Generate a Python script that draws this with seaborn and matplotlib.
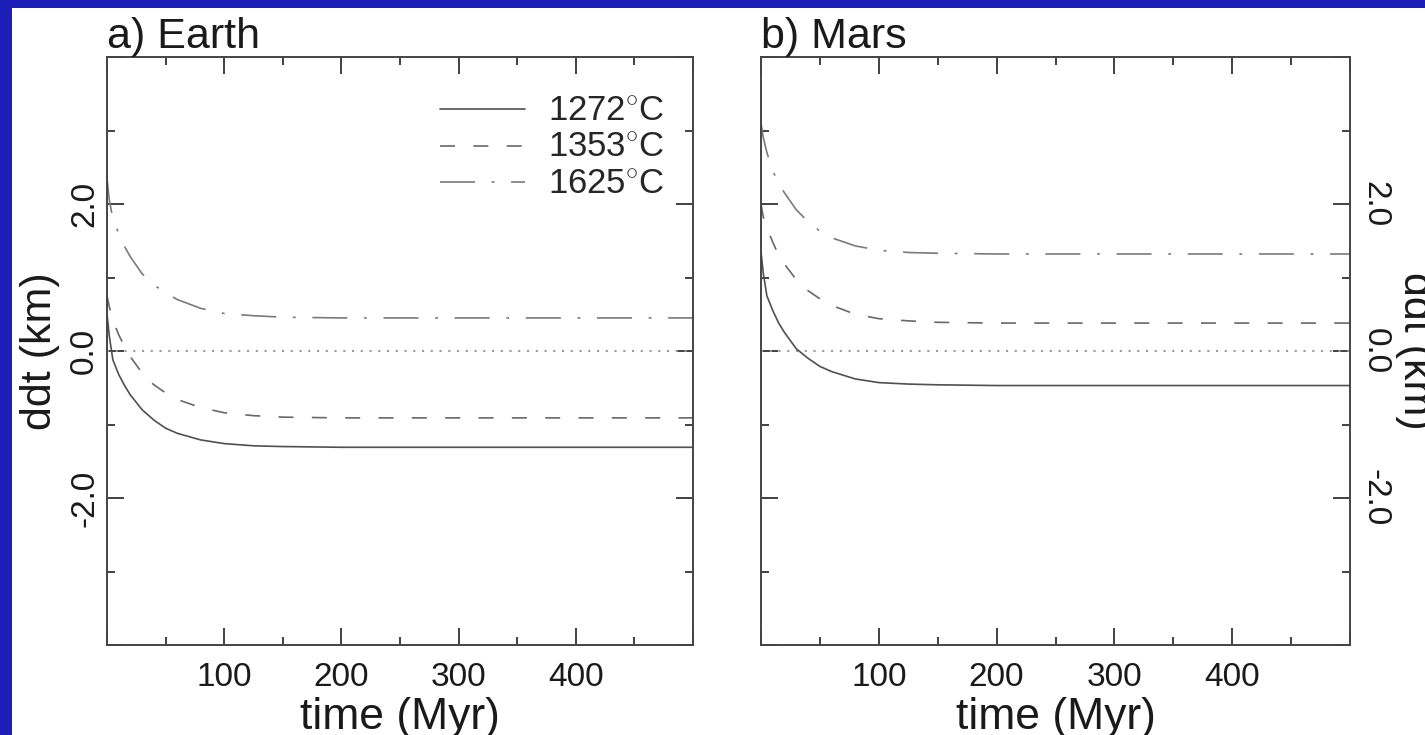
import numpy as np
import pandas as pd
import matplotlib
matplotlib.use('Agg')
import matplotlib.pyplot as plt
from matplotlib.patches import Rectangle
import seaborn as sns

# values
t_myr = [0, 2, 5, 10, 15, 20, 30, 40, 50, 60, 80, 100, 125, 150, 200, 300, 400, 500]

earth_1272 = [0.50, 0.20, -0.12, -0.32, -0.47, -0.60, -0.80, -0.94, -1.05, -1.12, -1.21, -1.26, -1.29, -1.30, -1.31, -1.31, -1.31, -1.31]
earth_1353 = [0.75, 0.60, 0.42, 0.22, 0.06, -0.08, -0.30, -0.46, -0.57, -0.66, -0.77, -0.84, -0.88, -0.90, -0.91, -0.91, -0.91, -0.91]
earth_1625 = [2.35, 2.05, 1.80, 1.60, 1.42, 1.28, 1.05, 0.90, 0.79, 0.70, 0.58, 0.51, 0.48, 0.46, 0.45, 0.45, 0.45, 0.45]

mars_1272 = [1.35, 1.05, 0.75, 0.55, 0.38, 0.25, 0.03, -0.10, -0.21, -0.28, -0.38, -0.43, -0.45, -0.46, -0.47, -0.47, -0.47, -0.47]
mars_1353 = [2.00, 1.82, 1.67, 1.48, 1.30, 1.18, 0.97, 0.82, 0.71, 0.62, 0.50, 0.44, 0.41, 0.39, 0.38, 0.38, 0.38, 0.38]
mars_1625 = [3.10, 2.90, 2.70, 2.45, 2.28, 2.15, 1.92, 1.76, 1.63, 1.54, 1.43, 1.37, 1.34, 1.33, 1.32, 1.32, 1.32, 1.32]

temps = ['1272', '1353', '1625']
panel_titles = ['a) Earth', 'b) Mars']
xtick_labels = ['', '100', '200', '300', '400', '']
ytick_labels = ['', '-2.0', '0.0', '2.0', '']

rows = []
for planet, series in [('Earth', [earth_1272, earth_1353, earth_1625]),
                       ('Mars', [mars_1272, mars_1353, mars_1625])]:
    for tm, vals in zip(temps, series):
        for t, v in zip(t_myr, vals):
            rows.append({'planet': planet, 'Tm': tm, 'time': t, 'ddt': v})
df = pd.DataFrame(rows)

sns.set_style('ticks')
plt.rcParams['font.family'] = ['Liberation Sans', 'DejaVu Sans']
plt.rcParams['mathtext.fontset'] = 'custom'
plt.rcParams['mathtext.rm'] = 'Liberation Sans'

lw = 1.2
palette = {'1272': '#505050', '1353': '#686868', '1625': '#7a7a7a'}
dashes = {'1272': '', '1353': (9, 11), '1625': (21, 10, 1.7, 10)}

fig = plt.figure(figsize=(14.25, 7.35), dpi=100, facecolor='#1b1fb8')
fig.patches.append(Rectangle((12 / 1425, 0), 1, 1 - 8 / 735, transform=fig.transFigure,
                             facecolor='white', edgecolor='none', zorder=-1))

ax1 = fig.add_axes([107 / 1425, 1 - 645 / 735, 586 / 1425, 588 / 735])
ax2 = fig.add_axes([761 / 1425, 1 - 645 / 735, 589 / 1425, 588 / 735])

for ax, planet, title in zip([ax1, ax2], ['Earth', 'Mars'], panel_titles):
    sub = df[df['planet'] == planet]
    ax.axhline(0, color='#9a9a9a', lw=1.5, dashes=(1.0, 3.2), zorder=1)
    sns.lineplot(data=sub, x='time', y='ddt', hue='Tm', style='Tm',
                 hue_order=temps, style_order=temps, palette=palette,
                 dashes=dashes, lw=lw, estimator=None, legend=False, ax=ax)
    ax.set_xlim(0, 500)
    ax.set_ylim(-4, 4)
    ax.set_xticks([0, 100, 200, 300, 400, 500])
    ax.set_xticklabels(xtick_labels)
    ax.set_xticks([50, 150, 250, 350, 450], minor=True)
    ax.set_yticks([-4, -2, 0, 2, 4])
    ax.set_yticklabels(ytick_labels)
    ax.set_yticks([-3, -1, 1, 3], minor=True)
    ax.tick_params(which='both', direction='in', top=True, right=True,
                   color='#333333', width=1.3, labelsize=24, labelcolor='#1a1a1a')
    ax.tick_params(which='major', length=12)
    ax.tick_params(which='minor', length=6)
    ax.tick_params(axis='x', pad=12)
    for s in ax.spines.values():
        s.set_color('#444444')
        s.set_linewidth(1.4)
    ax.set_xlabel('time (Myr)', fontsize=32, color='#1a1a1a', va='center')
    ax.xaxis.set_label_coords(0.5, -0.123)
    ax.set_title(title, loc='left', fontsize=31, color='#1a1a1a', pad=6)

ax1.tick_params(axis='y', labelrotation=90, pad=5)
ax1.set_ylabel('ddt (km)', fontsize=31, color='#1a1a1a', ha='center', va='center')
ax1.yaxis.set_label_coords(-0.115, 0.5)
for lab in ax1.get_yticklabels():
    lab.set_va('center')

ax2.tick_params(axis='y', labelleft=False, labelright=True, labelrotation=-90, pad=7)
for lab in ax2.get_yticklabels():
    lab.set_va('center')
ax2.yaxis.set_label_position('right')
ax2.set_ylabel('ddt (km)', fontsize=31, color='#1a1a1a', rotation=-90, ha='center', va='center')
ax2.yaxis.set_label_coords(1.11, 0.5)

handles = [l for l in ax1.get_lines()[1:4]]
ax1.legend(handles, [t + r'$^{\circ}$C' for t in temps], loc='upper right',
           bbox_to_anchor=(0.981, 0.964), frameon=False, fontsize=25,
           handlelength=2.45, handletextpad=0.65, labelspacing=0.1, borderpad=0)

fig.savefig('out.png', dpi=100, facecolor=fig.get_facecolor())
